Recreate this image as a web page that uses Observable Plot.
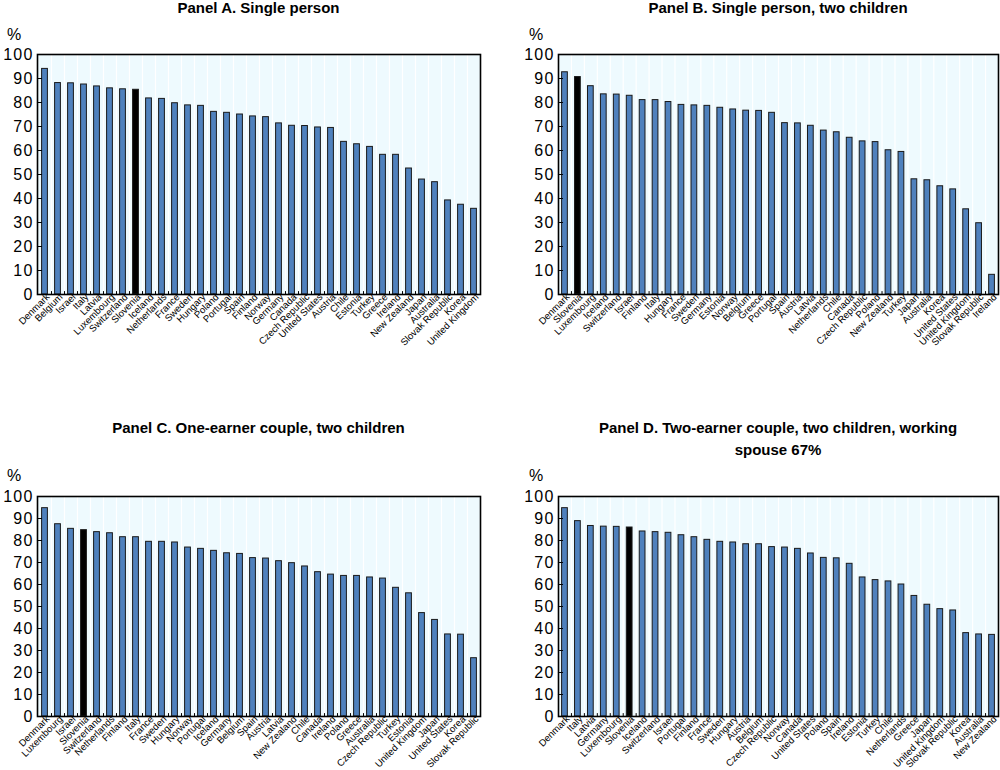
<!DOCTYPE html>
<html><head><meta charset="utf-8">
<script src="https://cdn.jsdelivr.net/npm/d3@7"></script>
<script src="https://cdn.jsdelivr.net/npm/@observablehq/plot@0.6"></script>
<style>
body{margin:0;background:#fff;font-family:"Liberation Sans",Arial,sans-serif;}
#root{position:relative;width:1000px;height:770px;overflow:hidden;background:#fff;}
.title{position:absolute;font-weight:bold;font-size:15px;text-align:center;line-height:22px;color:#000;}
.unit{position:absolute;font-size:16px;color:#000;}
.panel{position:absolute;}
.panel g[aria-label="y-axis tick label"] text{letter-spacing:1.2px;}
</style></head><body><div id="root"></div>
<script>
const titleA = "Panel A. Single person";
const countriesA = ["Denmark","Belgium","Israel","Italy","Latvia","Luxembourg","Switzerland","Slovenia","Iceland","Netherlands","France","Sweden","Hungary","Poland","Portugal","Spain","Finland","Norway","Germany","Canada","Czech Republic","United States","Austria","Chile","Estonia","Turkey","Greece","Ireland","New Zealand","Japan","Australia","Slovak Republic","Korea","United Kingdom"];
const valuesA = [94.0,88.1,88.0,87.5,86.7,85.9,85.5,85.3,81.7,81.5,79.7,78.8,78.6,76.1,75.7,75.0,74.2,73.9,71.3,70.3,70.2,69.6,69.4,63.6,62.6,61.5,58.2,58.2,52.5,47.9,46.8,39.2,37.4,35.7];

const titleB = "Panel B. Single person, two children";
const countriesB = ["Denmark","Slovenia","Luxembourg","Iceland","Switzerland","Israel","Finland","Italy","Hungary","France","Sweden","Germany","Estonia","Norway","Belgium","Greece","Portugal","Spain","Austria","Latvia","Netherlands","Chile","Canada","Czech Republic","Poland","New Zealand","Turkey","Japan","Australia","Korea","United States","United Kingdom","Slovak Republic","Ireland"];
const valuesB = [92.6,90.6,86.8,83.4,83.3,82.8,81.0,81.0,80.2,79.0,78.8,78.6,77.8,77.1,76.6,76.5,75.7,71.4,71.3,70.3,68.3,67.6,65.3,63.8,63.5,60.1,59.4,48.0,47.6,45.1,43.8,35.5,29.7,8.2];

const titleC = "Panel C. One-earner couple, two children";
const countriesC = ["Denmark","Luxembourg","Israel","Slovenia","Switzerland","Netherlands","Finland","Italy","France","Sweden","Hungary","Norway","Portugal","Iceland","Germany","Belgium","Spain","Austria","Latvia","New Zealand","Chile","Canada","Ireland","Poland","Greece","Australia","Czech Republic","Turkey","Estonia","United Kingdom","Japan","United States","Korea","Slovak Republic"];
const valuesC = [94.7,87.4,85.3,84.7,83.8,83.3,81.5,81.5,79.4,79.4,79.1,76.8,76.2,75.3,74.2,73.9,72.0,71.8,70.6,69.7,68.2,65.6,64.5,63.9,63.9,63.2,62.7,58.5,56.0,47.0,43.9,37.3,37.2,26.5];

const titleD = "Panel D. Two-earner couple, two children, working<br>spouse 67%";
const countriesD = ["Denmark","Italy","Latvia","Germany","Luxembourg","Slovenia","Iceland","Switzerland","Israel","Portugal","Finland","France","Sweden","Hungary","Austria","Belgium","Czech Republic","Norway","Canada","United States","Poland","Spain","Ireland","Estonia","Turkey","Chile","Netherlands","Greece","Japan","United Kingdom","Slovak Republic","Korea","Australia","New Zealand"];
const valuesD = [94.7,88.8,86.6,86.3,86.2,85.9,84.1,83.8,83.5,82.4,81.5,80.3,79.4,79.1,78.3,78.3,77.0,76.8,76.2,74.1,72.1,71.9,69.4,63.2,62.0,61.4,60.0,54.8,50.8,48.8,48.2,37.9,37.3,37.1];

const highlight = "Slovenia";
const yTicks = [0,10,20,30,40,50,60,70,80,90,100];
const unitLabel = "%";

const root = document.getElementById("root");
const tickShape = {draw(ctx, l){ ctx.moveTo(0,0); ctx.lineTo(0,-l); }};

function addDiv(cls, html, style){
  const d = document.createElement("div");
  d.className = cls; d.innerHTML = html;
  Object.assign(d.style, style);
  root.appendChild(d);
  return d;
}

function panel(title, countries, values, g){
  const data = countries.map((c,i)=>({country:c, value:values[i]}));
  const plotW = g.width - g.ml - g.mr;
  const step = plotW / countries.length;
  const chart = Plot.plot({
    width: g.width, height: g.height,
    marginTop: g.mt, marginBottom: g.mb, marginLeft: g.ml, marginRight: g.mr,
    style: {fontFamily: '"Liberation Sans", Arial, sans-serif', color: "#000", background: "transparent", overflow: "visible"},
    x: {domain: countries, padding: 0, label: null},
    y: {domain: [0,100], label: null},
    marks: [
      Plot.frame({fill: "#eefafe", stroke: "none"}),
      Plot.ruleX(countries.slice(1), {x: d=>d, dx: -step/2, stroke: "#ffffff", strokeWidth: 1.2}),
      Plot.barY(data, {x: "country", y: "value", fill: d => d.country === highlight ? "#000000" : "#4f81bd", stroke: "#1a1a1a", strokeWidth: 1, insetLeft: 3.6, insetRight: 3.6}),
      Plot.vector(countries.slice(1), {x: d=>d, dx: -step/2, frameAnchor: "bottom", length: 3, rotate: 0, anchor: "start", shape: tickShape, stroke: "#000", strokeWidth: 1}),
      Plot.vector(yTicks.slice(1,-1), {y: d=>d, frameAnchor: "left", length: 4, rotate: 90, anchor: "start", shape: tickShape, stroke: "#000", strokeWidth: 1.2}),
      Plot.frame({stroke: "#000", strokeWidth: 1.6}),
      Plot.axisY({ticks: yTicks, tickSize: 0, tickPadding: 4, fontSize: 16, label: null}),
      Plot.axisX({tickSize: 0, tickPadding: 1, tickRotate: -45, fontSize: 9.6, label: null, dx: 3})
    ]
  });
  chart.classList.add("panel");
  chart.style.left = g.left + "px"; chart.style.top = g.top + "px";
  root.appendChild(chart);
  const cx = g.left + g.ml + plotW/2;
  addDiv("title", title, {left: (cx - 250) + "px", width: "500px", top: g.titleTop + "px"});
  addDiv("unit", unitLabel, {left: (g.left + g.unitX) + "px", top: g.unitTop + "px"});
}

panel(titleA, countriesA, valuesA, {left:0, top:30, width:500, height:340, mt:24, mb:76, ml:37, mr:20, titleTop:-3, unitX:7, unitTop:26});
panel(titleB, countriesB, valuesB, {left:500, top:30, width:500, height:340, mt:24, mb:76, ml:58, mr:2, titleTop:-3, unitX:29, unitTop:26});
panel(titleC, countriesC, valuesC, {left:0, top:470, width:500, height:300, mt:26, mb:54, ml:37, mr:20, titleTop:417, unitX:7, unitTop:467});
panel(titleD, countriesD, valuesD, {left:500, top:470, width:500, height:300, mt:26, mb:54, ml:58, mr:2, titleTop:417, unitX:29, unitTop:467});
</script></body></html>
